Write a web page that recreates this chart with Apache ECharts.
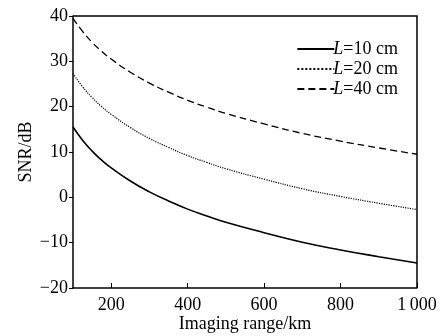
<!DOCTYPE html>
<html>
<head>
<meta charset="utf-8">
<script src="https://cdn.jsdelivr.net/npm/echarts@6/dist/echarts.min.js"></script>
<style>
  html, body { margin: 0; padding: 0; background: #fff; }
  #chart { width: 440px; height: 336px; }
</style>
</head>
<body>
<div id="chart"></div>
<script>
// imaging range (km)
const range = [100, 125, 150, 175, 200, 250, 300, 350, 400, 450, 500, 600, 700, 800, 900, 1000];
// SNR (dB)
const snrL10 = [15.5, 12.6, 10.2, 8.2, 6.5, 3.6, 1.2, -0.8, -2.6, -4.1, -5.5, -7.8, -9.9, -11.6, -13.1, -14.5];
const snrL20 = [27.3, 24.4, 22.0, 20.0, 18.3, 15.4, 13.0, 11.0, 9.2, 7.7, 6.3, 4.0, 1.9, 0.2, -1.3, -2.7];
const snrL40 = [39.5, 36.6, 34.2, 32.2, 30.5, 27.6, 25.2, 23.2, 21.4, 19.9, 18.5, 16.2, 14.1, 12.4, 10.9, 9.5];
const xTicks = [200, 400, 600, 800, 1000];
const names = ['L=10 cm', 'L=20 cm', 'L=40 cm'];

const font = 'Liberation Serif';
const pair = ys => range.map((x, i) => [x, ys[i]]);

const chart = echarts.init(document.getElementById('chart'));
chart.setOption({
  animation: false,
  grid: { left: 73, right: 23, top: 16, bottom: 48, outerBoundsMode: 'none' },
  legend: {
    right: 37,
    top: 35,
    orient: 'vertical',
    itemWidth: 37,
    itemHeight: 10,
    itemGap: 2,
    data: names,
    itemStyle: { opacity: 0 },
    formatter: n => '{i|L}' + n.slice(1),
    textStyle: {
      fontFamily: font, fontSize: 18, color: '#000', padding: [0, 0, 0, -6],
      rich: { i: { fontFamily: font, fontSize: 18, fontStyle: 'italic', color: '#000' } }
    }
  },
  xAxis: {
    type: 'value',
    min: 100,
    max: 1000,
    name: 'Imaging range/km',
    nameLocation: 'middle',
    nameGap: 27,
    nameMoveOverlap: false,
    nameTextStyle: { fontFamily: font, fontSize: 18, color: '#000' },
    axisLine: { onZero: false, lineStyle: { color: '#000', width: 1.5 } },
    axisTick: { inside: true, length: 5, customValues: xTicks, lineStyle: { color: '#000' } },
    axisLabel: {
      customValues: xTicks,
      margin: 8,
      fontFamily: font, fontSize: 18, color: '#000',
      formatter: v => v === 1000 ? '1\u2009000' : String(v)
    },
    splitLine: { show: false }
  },
  yAxis: {
    type: 'value',
    min: -20,
    max: 40,
    interval: 10,
    name: 'SNR/dB',
    nameLocation: 'middle',
    nameGap: 38,
    nameMoveOverlap: false,
    nameTextStyle: { fontFamily: font, fontSize: 18, color: '#000' },
    axisLine: { onZero: false, lineStyle: { color: '#000', width: 1.5 } },
    axisTick: { length: 4, lineStyle: { color: '#000' } },
    axisLabel: {
      margin: 5,
      fontFamily: font, fontSize: 18, color: '#000',
      formatter: v => String(v).replace('-', '\u2212')
    },
    splitLine: { show: false }
  },
  series: [
    { name: names[0], data: pair(snrL10), lineStyle: { color: '#000', width: 1.6, type: 'solid' } },
    { name: names[1], data: pair(snrL20), lineStyle: { color: '#000', width: 1.2, type: 'dotted' } },
    { name: names[2], data: pair(snrL40), lineStyle: { color: '#000', width: 1.3, type: [7, 4] } }
  ].map(s => ({ ...s, type: 'line', smooth: true, symbol: 'none', itemStyle: { color: '#000' } })),
  graphic: [
    // frame on top and right
    { type: 'polyline', shape: { points: [[73, 16], [417, 16], [417, 288]] }, style: { fill: 'none', stroke: '#000', lineWidth: 1.5 }, silent: true }
  ]
});
</script>
</body>
</html>
